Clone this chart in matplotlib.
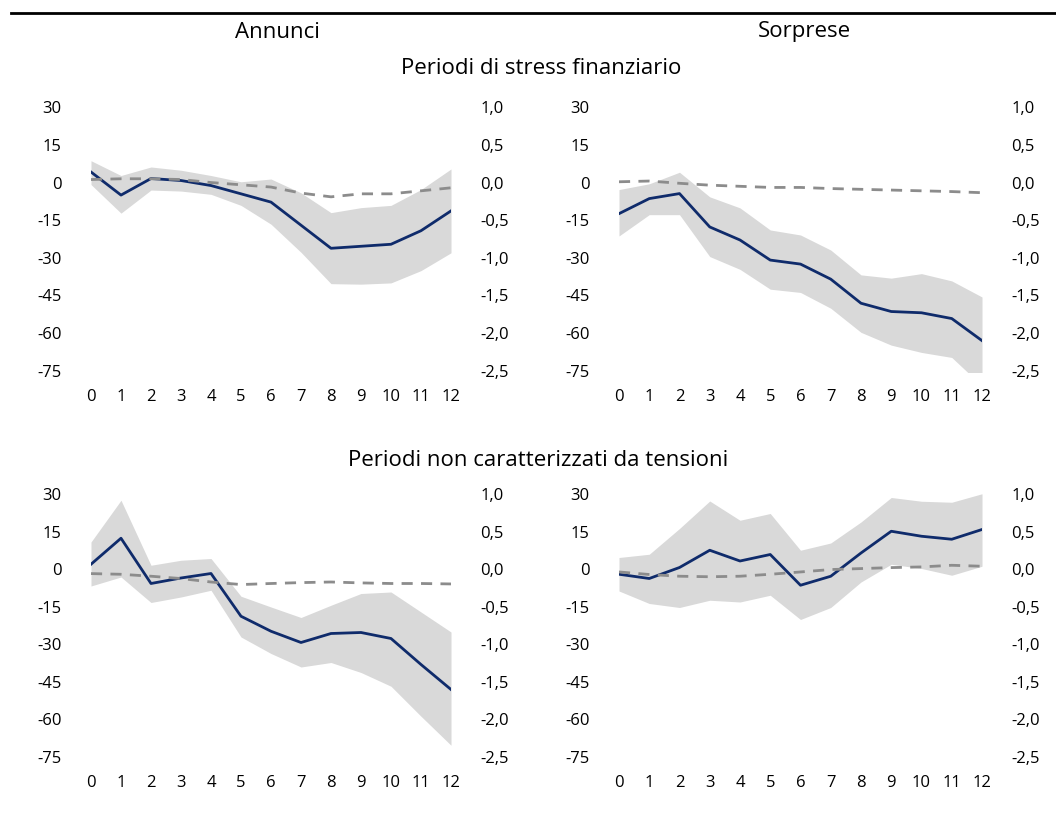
import numpy as np
import matplotlib
matplotlib.use("Agg")
import matplotlib.pyplot as plt
from matplotlib.ticker import FuncFormatter

plt.rcParams['font.family'] = ['Open Sans', 'DejaVu Sans']
plt.rcParams['axes.unicode_minus'] = False

horizon = np.arange(13)

# Periodi di stress finanziario - annunci
ann_stress = [4.2, -5.0, 1.6, 0.8, -1.2, -4.5, -7.8, -17.0, -26.2, -25.4, -24.6, -19.2, -11.3]
ann_stress_hi = [8.7, 2.8, 6.2, 4.9, 2.8, 0.3, 1.4, -4.1, -12.0, -10.0, -9.1, -2.8, 5.4]
ann_stress_lo = [-0.8, -12.2, -3.0, -3.4, -4.7, -9.1, -16.6, -27.8, -40.3, -40.5, -40.0, -35.1, -28.0]
ann_stress_rhs = [0.04, 0.05, 0.05, 0.04, 0.0, -0.03, -0.06, -0.14, -0.19, -0.15, -0.15, -0.11, -0.07]

# Periodi di stress finanziario - sorprese
sor_stress = [-12.4, -6.4, -4.4, -17.7, -22.9, -30.9, -32.5, -38.5, -48.1, -51.4, -51.9, -54.2, -63.0]
sor_stress_hi = [-2.8, -0.5, 4.1, -5.7, -10.1, -18.9, -20.9, -26.9, -36.8, -38.1, -36.3, -39.2, -45.6]
sor_stress_lo = [-21.3, -12.8, -12.8, -29.5, -34.6, -42.5, -43.8, -50.1, -59.7, -64.8, -67.7, -69.7, -81.0]
sor_stress_rhs = [0.01, 0.02, -0.01, -0.035, -0.05, -0.065, -0.065, -0.08, -0.09, -0.10, -0.11, -0.12, -0.135]

# Periodi non caratterizzati da tensioni - annunci
ann_calm = [2.0, 12.4, -5.7, -3.5, -1.7, -18.8, -24.8, -29.3, -25.7, -25.3, -27.7, -38.1, -48.1]
ann_calm_hi = [10.9, 27.6, 1.6, 3.6, 4.3, -10.8, -15.1, -19.3, -14.4, -9.7, -9.1, -17.1, -25.1]
ann_calm_lo = [-6.7, -3.1, -13.3, -11.1, -8.4, -27.1, -33.7, -39.1, -37.3, -41.3, -46.8, -58.8, -70.4]
ann_calm_rhs = [-0.058, -0.067, -0.093, -0.124, -0.17, -0.204, -0.19, -0.178, -0.17, -0.182, -0.19, -0.19, -0.196]

# Periodi non caratterizzati da tensioni - sorprese
sor_calm = [-2.0, -3.7, 0.7, 7.6, 3.3, 5.9, -6.4, -2.8, 6.5, 15.2, 13.2, 12.0, 15.9]
sor_calm_hi = [4.7, 6.0, 16.3, 27.3, 19.6, 22.3, 7.6, 10.5, 18.9, 28.7, 27.2, 26.8, 30.2]
sor_calm_lo = [-8.7, -13.7, -15.3, -12.4, -13.1, -10.4, -20.1, -15.3, -5.1, 2.0, 0.3, -2.4, 1.2]
sor_calm_rhs = [-0.036, -0.07, -0.093, -0.1, -0.093, -0.067, -0.036, -0.004, 0.009, 0.022, 0.031, 0.053, 0.04]

left_ticks = [30, 15, 0, -15, -30, -45, -60, -75]
right_ticks = [1.0, 0.5, 0.0, -0.5, -1.0, -1.5, -2.0, -2.5]

NAVY = '#0f2b6b'
BAND = '#d9d9d9'
DASH = '#8c8c8c'

W, H = 1056, 816
fig = plt.figure(figsize=(W / 100, H / 100), dpi=100)


def px_axes(x0, x1, y_top, y_bot):
    # axes rectangle given in pixel coordinates (origin top-left)
    return [x0 / W, 1 - y_bot / H, (x1 - x0) / W, (y_bot - y_top) / H]


def panel(rect, mid, hi, lo, rhs):
    ax = fig.add_axes(rect)
    ax.fill_between(horizon, lo, hi, color=BAND, lw=0)
    ax.plot(horizon, mid, color=NAVY, lw=2)
    ax.set_xlim(0, 12)
    ax.set_ylim(-75.5, 30.5)
    ax.set_yticks(left_ticks)
    ax.set_xticks(horizon)
    ax.tick_params(length=0, labelsize=12, pad=21)
    ax.tick_params(axis='x', pad=12)
    for s in ax.spines.values():
        s.set_visible(False)

    # dashed series on the right-hand scale, drawn over the band
    ax2 = ax.twinx()
    ax2.plot(horizon, rhs, color=DASH, lw=2, dashes=(4, 3))
    ax2.set_ylim(-75.5 / 30, 30.5 / 30)
    ax2.set_yticks(right_ticks)
    ax2.yaxis.set_major_formatter(FuncFormatter(lambda v, p: f"{v:.1f}".replace('.', ',')))
    ax2.tick_params(length=0, labelsize=12, pad=21)
    for s in ax2.spines.values():
        s.set_visible(False)
    return ax


panel(px_axes(91, 451, 106, 372), ann_stress, ann_stress_hi, ann_stress_lo, ann_stress_rhs)
panel(px_axes(619, 982, 106, 372), sor_stress, sor_stress_hi, sor_stress_lo, sor_stress_rhs)
panel(px_axes(91, 451, 493, 758), ann_calm, ann_calm_hi, ann_calm_lo, ann_calm_rhs)
panel(px_axes(619, 982, 493, 758), sor_calm, sor_calm_hi, sor_calm_lo, sor_calm_rhs)

# rule and headings
fig.add_artist(plt.Line2D([11 / W, 1.0], [1 - 13 / H, 1 - 13 / H], color='black', lw=2))
fig.text(277 / W, 1 - 32 / H, 'Annunci', ha='center', va='center', fontsize=16)
fig.text(804 / W, 1 - 32 / H, 'Sorprese', ha='center', va='center', fontsize=16)
fig.text(541 / W, 1 - 68 / H, 'Periodi di stress finanziario', ha='center', va='center', fontsize=16)
fig.text(538 / W, 1 - 461 / H, 'Periodi non caratterizzati da tensioni', ha='center', va='center', fontsize=16)

fig.savefig('out.png', dpi=100)
